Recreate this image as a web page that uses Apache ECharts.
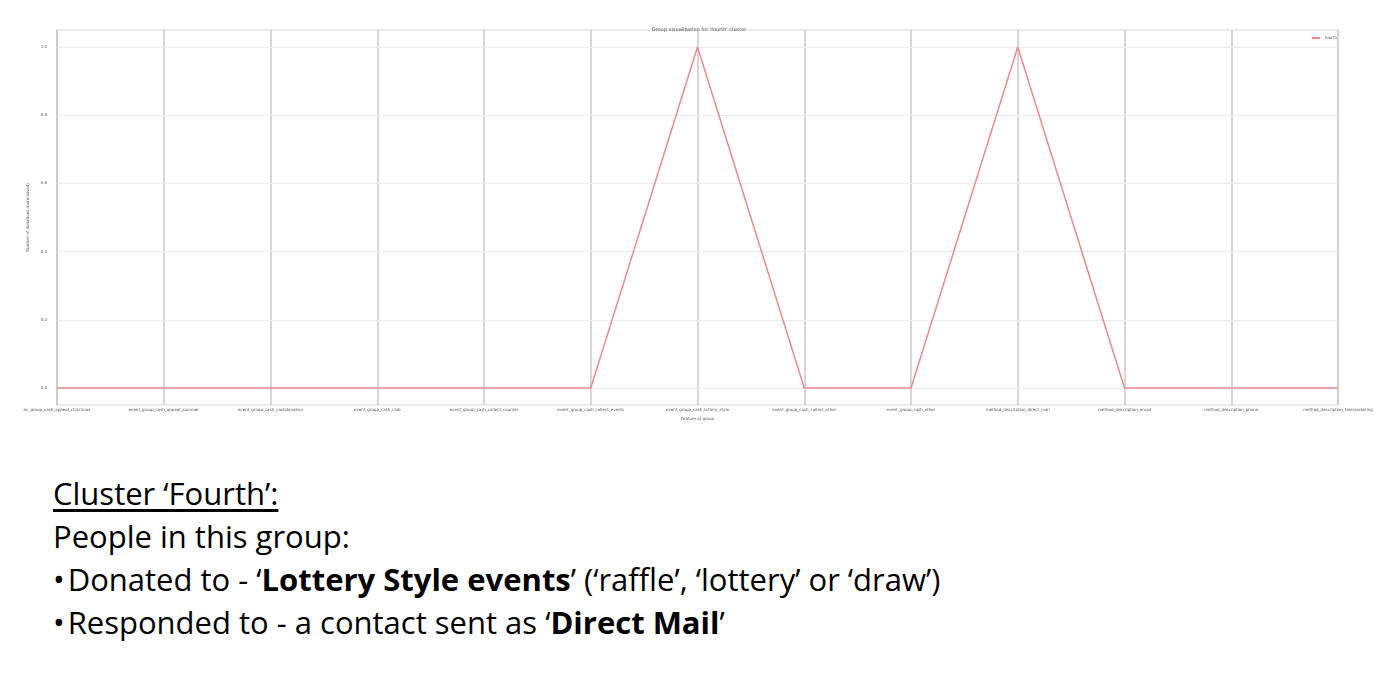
<!DOCTYPE html>
<html>
<head>
<meta charset="utf-8">
<script src="https://cdn.jsdelivr.net/npm/echarts@6/dist/echarts.min.js"></script>
<style>
  html, body { margin:0; padding:0; background:#fff; }
  #chart { position:absolute; left:0; top:0; width:1398px; height:440px; }
  #notes { position:absolute; left:53px; top:472px; font-family:"Open Sans","Liberation Sans",sans-serif; font-size:31px; color:#000; line-height:43px; white-space:nowrap; }
  #notes .u { text-decoration:underline; text-decoration-thickness:2.5px; text-underline-offset:4px; }
  #notes .b { margin-right:3px; }
</style>
</head>
<body>
<div id="chart"></div>
<div id="notes">
  <div class="u" style="display:inline-block">Cluster ‘Fourth’:</div>
  <div>People in this group:</div>
  <div><span class="b">•</span>Donated to - ‘<b>Lottery Style events</b>’ (‘raffle’, ‘lottery’ or ‘draw’)</div>
  <div><span class="b">•</span>Responded to - a contact sent as ‘<b>Direct Mail</b>’</div>
</div>
<script>
const categories = [
  'ev_group_cash_appeal_christmas',
  'event_group_cash_appeal_summer',
  'event_group_cash_cashdonation',
  'event_group_cash_club',
  'event_group_cash_collect_counter',
  'event_group_cash_collect_events',
  'event_group_cash_lottery_style',
  'event_group_cash_collect_other',
  'event_group_cash_other',
  'method_description_direct_mail',
  'method_description_email',
  'method_description_phone',
  'method_description_telemarketing'
];
const fourthValues = [0, 0, 0, 0, 0, 0, 1, 0, 0, 1, 0, 0, 0];
const yTicks = [0, 0.2, 0.4, 0.6, 0.8, 1.0];
const yMin = -0.05, yMax = 1.05;

const chart = echarts.init(document.getElementById('chart'));
chart.setOption({
  animation: false,
  title: {
    text: "Group visualization for 'fourth' cluster",
    left: 'center', top: 22,
    textStyle: { fontSize: 5, fontWeight: 'normal', color: '#555', fontFamily: 'DejaVu Sans' }
  },
  legend: {
    right: 56, top: 31,
    itemWidth: 8, itemHeight: 2,
    itemGap: 2,
    textStyle: { fontSize: 4, color: '#555', fontFamily: 'DejaVu Sans' },
    data: ['fourth'],
    icon: 'rect'
  },
  grid: { left: 57, right: 60, top: 30, bottom: 35, show: true, borderColor: '#d8d8d8', borderWidth: 1 },
  xAxis: {
    type: 'category',
    data: categories,
    boundaryGap: false,
    name: 'Feature of group',
    nameLocation: 'middle', nameGap: 10,
    nameTextStyle: { fontSize: 4, color: '#555', fontFamily: 'DejaVu Sans' },
    axisLine: { lineStyle: { color: '#cccccc', width: 1 } },
    axisTick: { show: false },
    axisLabel: { fontSize: 4, color: '#555', fontFamily: 'DejaVu Sans', margin: 3, interval: 0 },
    splitLine: { show: true, lineStyle: { color: '#c8c8c8', width: 1.5 } }
  },
  yAxis: {
    type: 'value',
    min: yMin, max: yMax,
    name: 'Number of donations (normalised)',
    nameLocation: 'middle', nameGap: 7, nameRotate: 90,
    nameTextStyle: { fontSize: 4, color: '#555', fontFamily: 'DejaVu Sans' },
    axisLine: { show: true, lineStyle: { color: '#cccccc', width: 1.5 } },
    axisTick: { show: false, customValues: yTicks },
    axisLabel: { fontSize: 4, color: '#555', fontFamily: 'DejaVu Sans', margin: 10, customValues: yTicks,
      formatter: v => v.toFixed(1) },
    splitLine: { show: false }
  },
  series: [{
    name: 'fourth',
    type: 'line',
    data: fourthValues,
    showSymbol: false,
    symbol: 'none',
    lineStyle: { color: '#e98a8c', width: 1.5 },
    itemStyle: { color: '#e98a8c' },
    markLine: {
      silent: true, symbol: 'none', label: { show: false },
      lineStyle: { color: '#ececec', width: 1, type: 'solid' },
      data: yTicks.map(v => ({ yAxis: v }))
    },
    z: 5
  }]
});
</script>
</body>
</html>
